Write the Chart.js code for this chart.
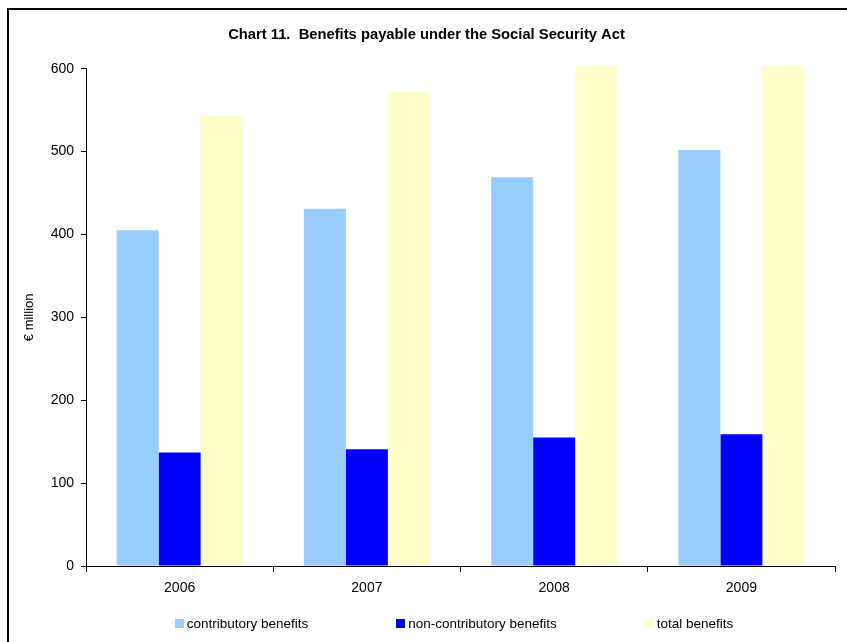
<!DOCTYPE html>
<html>
<head>
<meta charset="utf-8">
<script src="https://cdn.jsdelivr.net/npm/chart.js@4"></script>
<style>
html,body{margin:0;padding:0;background:#fff;}
#wrap{position:relative;width:847px;height:642px;overflow:hidden;}
#frame{position:absolute;left:7px;top:8px;width:900px;height:700px;border:2px solid #000;pointer-events:none;}
#legend{position:absolute;left:0;top:616px;width:908px;display:flex;justify-content:center;gap:88px;
font-family:"Liberation Sans",Arial,sans-serif;font-size:13.5px;color:#000;}
#legend span.item{display:flex;align-items:center;white-space:nowrap;}
#legend i{display:inline-block;width:9px;height:9px;margin-right:3px;}
</style>
</head>
<body>
<div id="wrap">
<canvas id="c" width="847" height="642"></canvas>
<div id="frame"></div>
<div id="legend"></div>
</div>
<script>
// data (€ million)
const years = ["2006","2007","2008","2009"];
const contributory = [405, 431, 469, 502];
const nonContributory = [137, 141, 155, 159];
const totalBenefits = [543, 572, 624, 661];

const seriesNames = ["contributory benefits","non-contributory benefits","total benefits"];
const seriesColors = ["#99CCFF","#0000FF","#FFFFCC"];

const font = "'Liberation Sans', Arial, sans-serif";

new Chart(document.getElementById("c"),{
type:"bar",
data:{
labels:years,
datasets:[contributory,nonContributory,totalBenefits].map((d,i)=>({
label:seriesNames[i],
data:d,
backgroundColor:seriesColors[i],
borderWidth:0,
categoryPercentage:0.673,
barPercentage:1,
clip:{top:3,left:0,right:0,bottom:0}
}))
},
options:{
responsive:false,
animation:false,
layout:{padding:{left:18,right:12,top:0,bottom:36}},
plugins:{
legend:{display:false},
tooltip:{enabled:false},
title:{
display:true,
text:"Chart 11.  Benefits payable under the Social Security Act",
color:"#000",
font:{family:font,size:14.75,weight:"bold"},
padding:{top:26,bottom:25}
}
},
scales:{
x:{
grid:{display:true,drawOnChartArea:false,drawTicks:true,tickLength:6,color:"#000"},
border:{display:true,color:"#000",width:1},
ticks:{color:"#000",font:{family:font,size:14},padding:8,maxRotation:0},
afterFit:s=>{s.height=40;}
},
y:{
min:0,max:600,
grid:{display:true,drawOnChartArea:false,drawTicks:true,tickLength:5,color:"#000"},
border:{display:true,color:"#000",width:1},
ticks:{stepSize:100,color:"#000",font:{family:font,size:14},padding:7},
title:{display:true,text:"€ million",color:"#000",font:{family:font,size:13}},
afterFit:s=>{s.width=68;}
}
}
}
});

// legend
const lg=document.getElementById("legend");
seriesNames.forEach((n,i)=>{
const it=document.createElement("span");
it.className="item";
const b=document.createElement("i");
b.style.background=seriesColors[i];
it.appendChild(b);
it.appendChild(document.createTextNode(n));
lg.appendChild(it);
});
</script>
</body>
</html>
